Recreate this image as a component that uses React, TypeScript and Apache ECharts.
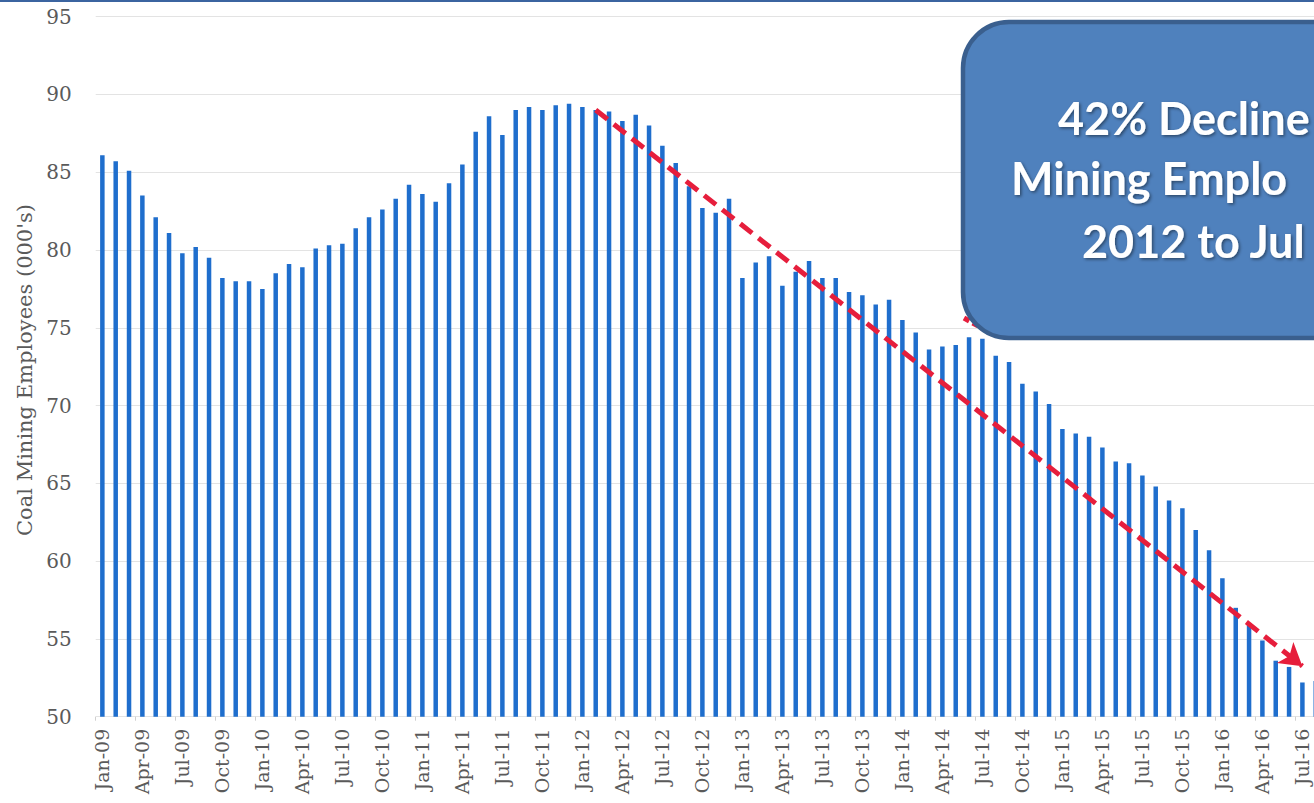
import React, { useEffect, useRef } from "react";
import * as echarts from "echarts";

const MONTHS = ["Jan", "Feb", "Mar", "Apr", "May", "Jun", "Jul", "Aug", "Sep", "Oct", "Nov", "Dec"];
const YEARS = ["09", "10", "11", "12", "13", "14", "15", "16"];

// Coal mining employees (000's), read month by month
const emp2009 = [86.1, 85.7, 85.1, 83.5, 82.1, 81.1, 79.8, 80.2, 79.5, 78.2, 78.0, 78.0];
const emp2010 = [77.5, 78.5, 79.1, 78.9, 80.1, 80.3, 80.4, 81.4, 82.1, 82.6, 83.3, 84.2];
const emp2011 = [83.6, 83.1, 84.3, 85.5, 87.6, 88.6, 87.4, 89.0, 89.2, 89.0, 89.3, 89.4];
const emp2012 = [89.2, 89.0, 88.9, 88.3, 88.7, 88.0, 86.7, 85.6, 84.1, 82.7, 82.4, 83.3];
const emp2013 = [78.2, 79.2, 79.6, 77.7, 78.6, 79.3, 78.2, 78.2, 77.3, 77.1, 76.5, 76.8];
const emp2014 = [75.5, 74.7, 73.6, 73.8, 73.9, 74.4, 74.3, 73.2, 72.8, 71.4, 70.9, 70.1];
const emp2015 = [68.5, 68.2, 68.0, 67.3, 66.4, 66.3, 65.5, 64.8, 63.9, 63.4, 62.0, 60.7];
const emp2016 = [58.9, 57.0, 55.9, 54.9, 53.6, 53.2, 52.2, 52.3];

const employees = [
  ...emp2009, ...emp2010, ...emp2011, ...emp2012,
  ...emp2013, ...emp2014, ...emp2015, ...emp2016,
];

const categories: string[] = [];
YEARS.forEach((y) => MONTHS.forEach((m) => categories.push(`${m}-${y}`)));
const months = categories.slice(0, employees.length);

// Y axis
const Y_MIN = 50;
const Y_MAX = 95;
const Y_STEP = 5;

// Trend arrow (annotation)
const trendStart = ["Feb-12", 89.0];
const trendEnd = ["Jul-16", 53.25];

const Y_TITLE = "Coal Mining Employees (000's)";
// visible part of the callout (the box runs off the right edge)
const CALLOUT_LINES = ["42% Decline", "Mining Emplo", "2012 to Jul"];

export default function App() {
  const ref = useRef<HTMLDivElement>(null);

  useEffect(() => {
    if (!ref.current) return;
    const chart = echarts.init(ref.current, undefined, { renderer: "svg" });
    const serif = '"DejaVu Serif", "Liberation Serif", serif';
    const labelColor = "#5a5a5a";
    const red = "#E61E3C";

    chart.setOption({
      animation: false,
      backgroundColor: "#ffffff",
      grid: {
        left: 95.7,
        top: 16.7,
        width: 1226.7,
        height: 700,
        containLabel: false,
        outerBoundsMode: "none",
      },
      xAxis: {
        type: "category",
        data: months,
        boundaryGap: true,
        axisLine: { show: false },
        axisTick: { show: true, interval: 2, length: 4, lineStyle: { color: "#cfcfcf" } },
        axisLabel: {
          interval: 2,
          rotate: 90,
          margin: 12,
          fontFamily: serif,
          fontSize: 19,
          color: labelColor,
        },
        splitLine: { show: false },
      },
      yAxis: {
        type: "value",
        min: Y_MIN,
        max: Y_MAX,
        interval: Y_STEP,
        axisLine: { show: false },
        axisTick: { show: false },
        axisLabel: {
          margin: 24,
          fontFamily: serif,
          fontSize: 20,
          color: labelColor,
        },
        splitLine: { show: true, lineStyle: { color: "#e3e3e3", width: 1.2 } },
      },
      series: [
        {
          type: "bar",
          data: employees,
          barWidth: 4.5,
          itemStyle: { color: "#1F6ECD" },
          markLine: {
            silent: true,
            symbol: ["none", "arrow"],
            symbolSize: [20, 22],
            label: { show: false },
            lineStyle: { color: red, width: 5, type: [15, 8], opacity: 1 },
            data: [[{ coord: trendStart }, { coord: trendEnd }]],
            z: 5,
          },
        },
      ],
      graphic: [
        {
          type: "rect",
          z: 10,
          shape: { x: 0, y: 0, width: 1314, height: 2 },
          style: { fill: "#3B64A0" },
        },
        {
          type: "text",
          z: 10,
          x: 25,
          y: 370,
          rotation: Math.PI / 2,
          style: {
            text: Y_TITLE,
            font: `21px ${serif}`,
            fill: labelColor,
            align: "center",
            verticalAlign: "middle",
          },
        },
        {
          type: "line",
          z: 10,
          shape: { x1: 964, y1: 318, x2: 992, y2: 334 },
          style: { stroke: red, lineWidth: 5, lineDash: [6, 4] },
        },
        {
          type: "rect",
          z: 20,
          shape: { x: 963, y: 22, width: 520, height: 316, r: 46 },
          style: { fill: "#4F81BD", stroke: "#3A5F8E", lineWidth: 4.5 },
        },
        ...CALLOUT_LINES.map((t, i) => ({
          type: "text",
          z: 21,
          x: [1058, 1011, 1082][i],
          y: [118, 178, 241][i],
          style: {
            text: t,
            font: 'bold 45px Lato, "Open Sans", sans-serif',
            fill: "#ffffff",
            align: "left",
            verticalAlign: "middle",
            textShadowColor: "rgba(0,0,0,0.45)",
            textShadowBlur: 3,
            textShadowOffsetX: 1.5,
            textShadowOffsetY: 1.5,
          },
        })),
      ],
    });

    return () => chart.dispose();
  }, []);

  return (
    <div
      ref={ref}
      style={{ position: "fixed", left: 0, top: 0, width: 1314, height: 803, background: "#fff" }}
    />
  );
}
